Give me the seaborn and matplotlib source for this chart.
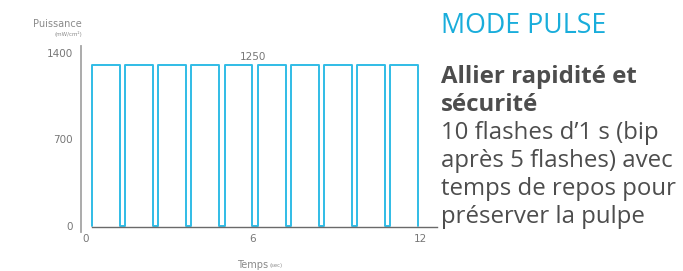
import matplotlib
matplotlib.use("Agg")
import matplotlib.pyplot as plt
import seaborn as sns
import pandas as pd

# pulse timing (seconds) and power (mW/cm2)
pulse_start = [0.23, 1.42, 2.61, 3.80, 4.99, 6.18, 7.37, 8.56, 9.75, 10.94]
pulse_end = [1.23, 2.42, 3.61, 4.80, 5.99, 7.18, 8.37, 9.56, 10.75, 11.94]
power_on = 1300
power_off = 0
power_label = "1250"
y_ticks = [0, 700, 1400]
x_ticks = [0, 6, 12]

title = "MODE PULSE"
bold_lines = ["Allier rapidité et", "sécurité"]
body_lines = ["10 flashes d\u20191 s (bip", "après 5 flashes) avec",
              "temps de repos pour", "préserver la pulpe"]

t, p = [], []
for s, e in zip(pulse_start, pulse_end):
    t += [s, s, e, e]
    p += [power_off, power_on, power_on, power_off]
df = pd.DataFrame({"t": t, "p": p})

sns.set_style("white")
plt.rcParams["font.family"] = ["DejaVu Sans"]

W, H = 683, 271
fig = plt.figure(figsize=(W / 100, H / 100), dpi=100)

# axes placed so 0s sits at x=85.5px, 12s at 420px, 0 at y=226px, 1400 at y=52.5px
x0, x1 = -0.15, 12.6
y0, y1 = -60, 1460
pxs = (420 - 85.5) / 12
pys = (226 - 52.5) / 1400
left = 85.5 + x0 * pxs
right = 85.5 + x1 * pxs
bot = 226 - y0 * pys
top = 226 - y1 * pys
ax = fig.add_axes([left / W, (H - bot) / H, (right - left) / W, (bot - top) / H])

cyan = "#30bce6"
sns.lineplot(data=df, x="t", y="p", sort=False, estimator=None, ax=ax,
             color=cyan, lw=1.4)

ax.set_xlim(x0, x1)
ax.set_ylim(y0, y1)
ax.set_xticks(x_ticks)
ax.set_yticks(y_ticks)
ax.set_xlabel("")
ax.set_ylabel("")
ax.tick_params(length=0, labelsize=7.5, labelcolor="#777777")
ax.tick_params(axis="x", pad=5)
ax.tick_params(axis="y", pad=6)
for sp in ["top", "right"]:
    ax.spines[sp].set_visible(False)
ax.spines["left"].set_color("#a5a5a5")
ax.spines["left"].set_linewidth(1.3)
ax.spines["left"].set_bounds(-50, 1450)
ax.spines["bottom"].set_color("#6a6a6a")
ax.spines["bottom"].set_linewidth(1.0)
ax.spines["bottom"].set_position(("data", -12))
ax.spines["bottom"].set_bounds(0.23, x1)
ax.patch.set_alpha(0)

ax.annotate(power_label, xy=(6, power_on), xytext=(0, 2),
            textcoords="offset points", ha="center", va="bottom",
            fontsize=7.5, color="#777777")

# axis titles
fig.text(82 / W, 1 - 24 / H, "Puissance", ha="right", va="center",
         fontsize=7, color="#8a8a8a")
fig.text(82 / W, 1 - 34.5 / H, "(mW/cm²)", ha="right", va="center",
         fontsize=4, color="#8a8a8a")
fig.text(268 / W, 1 - 265 / H, "Temps", ha="right", va="center",
         fontsize=7, color="#8a8a8a")
fig.text(270 / W, 1 - 266 / H, "(sec)", ha="left", va="center",
         fontsize=3.8, color="#8a8a8a")

# right-hand text block
tx = 441 / W
fig.text(tx, 1 - 26 / H, title, ha="left", va="center", fontsize=19.3,
         color="#19addb", family="Open Sans")
ys = [77, 105, 133, 161, 189, 217]
lines = bold_lines + body_lines
for i, (yy, ln) in enumerate(zip(ys, lines)):
    fig.text(tx, 1 - yy / H, ln, ha="left", va="center", fontsize=17.3,
             color="#4d4d4d", family="Open Sans",
             fontweight="bold" if i < len(bold_lines) else "normal")

fig.savefig("out.png", dpi=100)
